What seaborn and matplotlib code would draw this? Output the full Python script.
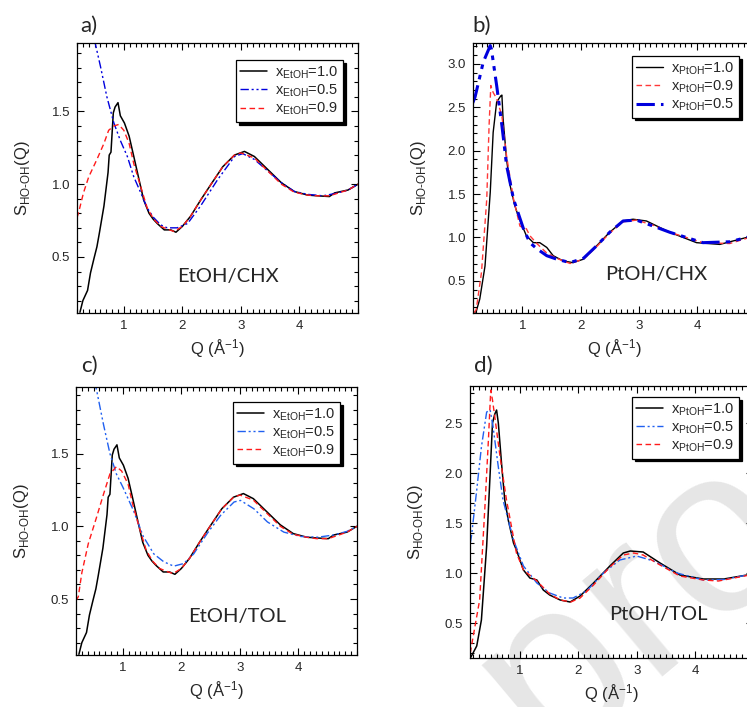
import numpy as np
import pandas as pd
import seaborn as sns
import matplotlib.pyplot as plt
from matplotlib.ticker import MultipleLocator, FormatStrFormatter

# ---- data ----
# a) EtOH/CHX
q_ec_10 = [0.25, 0.30, 0.38, 0.43, 0.49, 0.54, 0.58, 0.66, 0.73, 0.75, 0.78, 0.82, 0.85, 0.90, 0.94, 1.01, 1.09, 1.17,
           1.26, 1.34, 1.43, 1.50, 1.57, 1.69, 1.80, 1.89, 2.0, 2.14, 2.31, 2.49, 2.69, 2.89, 3.06, 3.23, 3.46, 3.69,
           3.91, 4.14, 4.31, 4.51, 4.60, 4.83, 5.0]
s_ec_10 = [0.12, 0.20, 0.27, 0.39, 0.49, 0.57, 0.66, 0.85, 1.08, 1.20, 1.22, 1.49, 1.53, 1.56, 1.47, 1.42, 1.33, 1.19,
           1.03, 0.89, 0.80, 0.76, 0.73, 0.686, 0.686, 0.67, 0.71, 0.78, 0.89, 1.0, 1.12, 1.20, 1.225, 1.19, 1.10, 1.01,
           0.95, 0.925, 0.92, 0.915, 0.94, 0.96, 1.0]
q_ec_05 = [0.2, 0.3, 0.4, 0.51, 0.6, 0.71, 0.83, 0.94, 1.06, 1.17, 1.29, 1.40, 1.51, 1.63, 1.74, 1.91, 2.09, 2.31, 2.6,
           2.89, 3.03, 3.23, 3.46, 3.69, 3.91, 4.14, 4.4, 4.6, 4.83, 5.0]
s_ec_05 = [2.75, 2.45, 2.2, 1.97, 1.81, 1.60, 1.42, 1.30, 1.19, 1.05, 0.94, 0.835, 0.77, 0.72, 0.70, 0.70, 0.73, 0.85,
           1.03, 1.19, 1.21, 1.17, 1.09, 1.01, 0.95, 0.93, 0.92, 0.935, 0.96, 1.0]
q_ec_09 = [0.2, 0.23, 0.31, 0.40, 0.54, 0.66, 0.74, 0.83, 0.91, 1.0, 1.09, 1.17, 1.29, 1.40, 1.51, 1.63, 1.75, 1.86,
           2.0, 2.14, 2.31, 2.49, 2.69, 2.89, 3.0, 3.23, 3.46, 3.69, 3.91, 4.14, 4.31, 4.51, 4.83, 5.0]
s_ec_09 = [0.77, 0.81, 0.94, 1.05, 1.17, 1.28, 1.37, 1.40, 1.41, 1.37, 1.28, 1.14, 0.98, 0.835, 0.76, 0.71, 0.69,
           0.675, 0.71, 0.78, 0.89, 1.0, 1.12, 1.20, 1.215, 1.18, 1.09, 1.0, 0.945, 0.925, 0.92, 0.92, 0.96, 1.0]

# b) PtOH/CHX
q_pc_10 = [0.17, 0.21, 0.27, 0.36, 0.45, 0.50, 0.56, 0.63, 0.65, 0.67, 0.73, 0.79, 0.87, 0.93, 1.02, 1.07, 1.19, 1.30,
           1.42, 1.53, 1.70, 1.87, 2.05, 2.27, 2.50, 2.73, 2.9, 3.13, 3.53, 3.99, 4.39, 4.85, 5.0]
s_pc_10 = [0.13, 0.15, 0.29, 0.67, 1.52, 2.21, 2.56, 2.63, 2.64, 2.37, 1.90, 1.60, 1.37, 1.25, 1.10, 1.02, 0.94, 0.94,
           0.885, 0.79, 0.73, 0.71, 0.75, 0.90, 1.06, 1.19, 1.21, 1.19, 1.06, 0.94, 0.92, 1.0, 1.01]
q_pc_09 = [0.17, 0.21, 0.30, 0.39, 0.43, 0.46, 0.50, 0.56, 0.65, 0.73, 0.85, 0.96, 1.07, 1.13, 1.25, 1.42, 1.59, 1.82,
           2.05, 2.27, 2.50, 2.73, 2.96, 3.25, 3.53, 4.10, 4.56, 4.85, 5.0]
s_pc_09 = [0.13, 0.17, 0.60, 1.44, 2.29, 2.75, 2.67, 2.60, 2.40, 1.94, 1.44, 1.13, 1.10, 1.02, 0.93, 0.82, 0.76, 0.70,
           0.75, 0.89, 1.05, 1.18, 1.20, 1.14, 1.06, 0.94, 0.93, 0.99, 1.0]
q_pc_05 = [0.15, 0.19, 0.33, 0.45, 0.47, 0.56, 0.65, 0.73, 0.85, 1.02, 1.13, 1.25, 1.42, 1.59, 1.82, 2.05, 2.27, 2.50,
           2.73, 2.96, 3.25, 3.53, 4.10, 4.56, 4.85, 5.0]
s_pc_05 = [2.55, 2.62, 3.02, 3.21, 3.17, 2.75, 2.29, 1.83, 1.44, 1.10, 0.94, 0.87, 0.79, 0.75, 0.71, 0.76, 0.90, 1.06,
           1.19, 1.20, 1.13, 1.06, 0.94, 0.95, 1.0, 1.01]

# c) EtOH/TOL
q_et_10 = q_ec_10
s_et_10 = s_ec_10
q_et_05 = [0.2, 0.3, 0.4, 0.55, 0.67, 0.78, 0.89, 1.0, 1.18, 1.35, 1.53, 1.70, 1.87, 2.04, 2.21, 2.44, 2.67, 2.90, 3.01,
           3.24, 3.47, 3.75, 4.04, 4.33, 4.6, 4.83, 5.0]
s_et_05 = [2.7, 2.4, 2.2, 1.94, 1.70, 1.50, 1.36, 1.27, 1.11, 0.93, 0.81, 0.756, 0.726, 0.744, 0.81, 0.95, 1.075, 1.167,
           1.178, 1.12, 1.03, 0.96, 0.93, 0.925, 0.94, 0.965, 1.0]
q_et_09 = [0.2, 0.24, 0.30, 0.41, 0.55, 0.67, 0.78, 0.89, 0.98, 1.09, 1.17, 1.29, 1.40, 1.51, 1.63, 1.75, 1.86, 2.0,
           2.14, 2.31, 2.49, 2.69, 2.89, 3.0, 3.23, 3.46, 3.69, 3.91, 4.14, 4.31, 4.51, 4.83, 5.0]
s_et_09 = [0.49, 0.516, 0.68, 0.88, 1.06, 1.22, 1.36, 1.41, 1.38, 1.29, 1.15, 0.98, 0.835, 0.76, 0.71, 0.69, 0.675,
           0.71, 0.78, 0.89, 1.0, 1.12, 1.20, 1.215, 1.18, 1.09, 1.0, 0.945, 0.925, 0.915, 0.915, 0.96, 1.0]

# d) PtOH/TOL
q_pt_10 = [0.15, 0.17, 0.26, 0.34, 0.43, 0.49, 0.53, 0.57, 0.60, 0.63, 0.69, 0.74, 0.80, 0.89, 0.94, 1.06, 1.17, 1.29,
           1.40, 1.51, 1.69, 1.86, 2.03, 2.26, 2.54, 2.77, 2.89, 3.11, 3.40, 3.74, 4.14, 4.49, 4.89, 5.0]
s_pt_10 = [0.15, 0.17, 0.27, 0.53, 1.27, 2.0, 2.50, 2.59, 2.63, 2.50, 2.06, 1.73, 1.53, 1.30, 1.23, 1.03, 0.95, 0.93,
           0.83, 0.78, 0.73, 0.71, 0.77, 0.90, 1.07, 1.20, 1.22, 1.21, 1.10, 0.98, 0.94, 0.94, 0.98, 1.0]
q_pt_05 = [0.15, 0.17, 0.26, 0.34, 0.43, 0.49, 0.54, 0.63, 0.71, 0.89, 1.06, 1.29, 1.51, 1.74, 1.91, 2.14, 2.43, 2.71,
           3.0, 3.29, 3.69, 4.14, 4.49, 4.89, 5.0]
s_pt_05 = [1.30, 1.37, 1.83, 2.26, 2.61, 2.63, 2.46, 2.06, 1.73, 1.33, 1.07, 0.90, 0.80, 0.75, 0.75, 0.82, 1.0, 1.13,
           1.17, 1.12, 1.0, 0.93, 0.935, 0.98, 1.0]
q_pt_09 = [0.15, 0.17, 0.31, 0.40, 0.46, 0.50, 0.53, 0.57, 0.66, 0.77, 0.94, 1.06, 1.29, 1.51, 1.69, 1.87, 2.03, 2.26,
           2.54, 2.77, 2.95, 3.11, 3.40, 3.74, 4.14, 4.4, 4.89, 5.0]
s_pt_09 = [0.2, 0.27, 0.73, 1.66, 2.33, 2.83, 2.73, 2.56, 2.16, 1.73, 1.20, 1.03, 0.92, 0.79, 0.73, 0.71, 0.75, 0.88,
           1.06, 1.18, 1.20, 1.18, 1.08, 0.97, 0.93, 0.92, 0.975, 1.0]

# ---- styling ----
sns.set_style("ticks")
plt.rcParams['font.family'] = ['Liberation Sans', 'DejaVu Sans']
plt.rcParams['mathtext.fontset'] = 'custom'
plt.rcParams['mathtext.rm'] = 'Liberation Sans'

SOLID = '-'
DASH = (0, (4, 2.5))
DADOT = (0, (6, 2, 1.5, 2, 1.5, 2))

fig = plt.figure(figsize=(7.47, 7.07), dpi=100)

# "Journal Pre-proof" watermark, mostly outside the crop
wm = dict(rotation=40, rotation_mode='anchor', fontsize=169, color='#e6e6e6',
          family='Liberation Sans', va='baseline', zorder=-5)
fig.text(0.655, -0.15, "-proof", ha='left', **wm)
fig.text(0.655, -0.15, "Journal Pre", ha='right', **wm)


def panel(rect, xlim, ylim, curves, sub, tag, tag_xy, note, note_xy, leg_anchor):
    ax = fig.add_axes(rect)
    ax.patch.set_alpha(0)
    for q, s, lab, col, ls, lw in curves:
        df = pd.DataFrame({'Q': q, 'S': s})
        sns.lineplot(data=df, x='Q', y='S', ax=ax, color=col, linestyle=ls, lw=lw,
                     label=r'x$_\mathregular{%s}$=%s' % (sub, lab), sort=False, estimator=None)
    ax.set_xlim(*xlim)
    ax.set_ylim(*ylim)
    ax.set_xticks([1, 2, 3, 4])
    ax.xaxis.set_minor_locator(MultipleLocator(0.1))
    ax.yaxis.set_major_locator(MultipleLocator(0.5))
    ax.yaxis.set_minor_locator(MultipleLocator(0.1))
    ax.yaxis.set_major_formatter(FormatStrFormatter('%.1f'))
    ax.tick_params(which='both', direction='in', top=True, right=True, labelsize=9.5, width=0.8, color='black')
    ax.tick_params(which='major', length=5, pad=5)
    ax.tick_params(which='minor', length=3)
    for sp in ax.spines.values():
        sp.set_linewidth(0.9)
        sp.set_color('black')
    ax.set_xlabel(r'Q ($\mathregular{\AA^{-1}}$)', fontsize=12, labelpad=4)
    ax.set_ylabel(r'S$_\mathregular{HO\text{-}OH}$(Q)', fontsize=12, labelpad=14)
    leg = ax.legend(loc='upper right', bbox_to_anchor=leg_anchor, borderaxespad=0, fontsize=10.5,
                    frameon=True, fancybox=False, shadow={'color': 'black', 'alpha': 1},
                    edgecolor='black', framealpha=1, handlelength=1.8, labelspacing=0.1,
                    borderpad=0.3, handletextpad=0.6)
    leg.get_frame().set_linewidth(0.9)
    ax.text(note_xy[0], note_xy[1], note, fontsize=14.5, family='Lato', ha='center', va='center')
    fig.text(tag_xy[0], tag_xy[1], tag, fontsize=16, family='Lato', va='baseline')
    return ax


blue1 = '#0000dd'
blue2 = '#2060f0'
red = '#ff1a1a'

panel([0.1031, 0.5573, 0.3762, 0.3819], (0.2, 5.0), (0.115, 1.97),
      [(q_ec_10, s_ec_10, '1.0', 'black', SOLID, 1.1),
       (q_ec_05, s_ec_05, '0.5', blue1, DADOT, 1.0),
       (q_ec_09, s_ec_09, '0.9', red, DASH, 1.0)],
      'EtOH', 'a)', (0.107, 0.955), 'EtOH/CHX', (2.77, 0.365), (0.947, 0.937))

panel([0.6332, 0.5573, 0.378, 0.3819], (0.154, 5.0), (0.13, 3.24),
      [(q_pc_10, s_pc_10, '1.0', 'black', SOLID, 1.0),
       (q_pc_09, s_pc_09, '0.9', '#ff3838', DASH, 1.0),
       (q_pc_05, s_pc_05, '0.5', blue1, DADOT, 2.2)],
      'PtOH', 'b)', (0.633, 0.955), 'PtOH/CHX', (3.30, 0.577), (0.942, 0.952))

panel([0.1017, 0.0735, 0.3762, 0.379], (0.2, 5.0), (0.115, 1.957),
      [(q_et_10, s_et_10, '1.0', 'black', SOLID, 1.1),
       (q_et_05, s_et_05, '0.5', blue2, DADOT, 1.0),
       (q_et_09, s_et_09, '0.9', red, DASH, 1.0)],
      'EtOH', 'c)', (0.108, 0.474), 'EtOH/TOL', (2.95, 0.379), (0.94, 0.945))

panel([0.6292, 0.0693, 0.3795, 0.3847], (0.145, 5.0), (0.15, 2.87),
      [(q_pt_10, s_pt_10, '1.0', 'black', SOLID, 1.1),
       (q_pt_05, s_pt_05, '0.5', blue2, DADOT, 1.0),
       (q_pt_09, s_pt_09, '0.9', red, DASH, 1.0)],
      'PtOH', 'd)', (0.634, 0.474), 'PtOH/TOL', (3.37, 0.585), (0.949, 0.96))

fig.savefig('out.png', dpi=100)
